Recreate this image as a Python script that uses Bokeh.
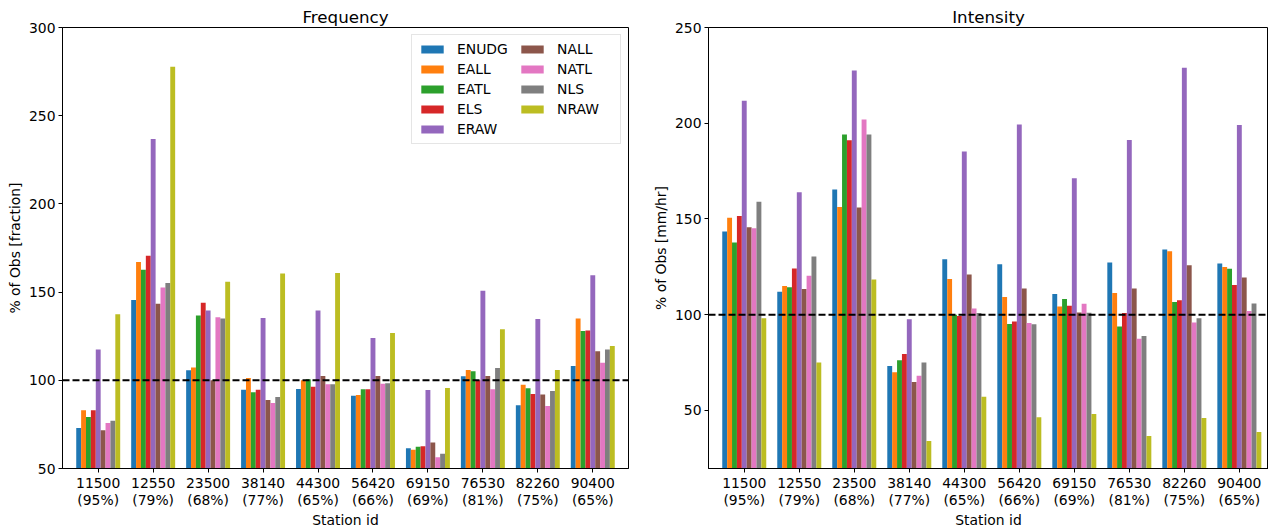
from bokeh.plotting import figure
from bokeh.models import Range1d, FixedTicker, Span, Legend, LegendItem
from bokeh.layouts import row
from bokeh.embed import file_html
from bokeh.resources import INLINE

stations = ["11500", "12550", "23500", "38140", "44300", "56420", "69150", "76530", "82260", "90400"]
coverage = ["95%", "79%", "68%", "77%", "65%", "66%", "69%", "81%", "75%", "65%"]
series = ["ENUDG", "EALL", "EATL", "ELS", "ERAW", "NALL", "NATL", "NLS", "NRAW"]
colors = ["#1f77b4", "#ff7f0e", "#2ca02c", "#d62728", "#9467bd", "#8c564b", "#e377c2", "#7f7f7f", "#bcbd22"]

# Frequency (% of Obs [fraction])
freq_ENUDG = [73.0, 145.5, 105.7, 94.7, 95.1, 91.3, 61.5, 102.3, 85.8, 108.1]
freq_EALL = [83.0, 167.0, 107.2, 101.3, 100.0, 91.7, 60.6, 105.8, 97.5, 135.1]
freq_EATL = [79.2, 162.6, 136.8, 93.2, 100.6, 94.9, 62.3, 105.1, 95.5, 128.0]
freq_ELS = [83.0, 170.6, 144.0, 94.7, 96.4, 94.9, 62.6, 100.0, 92.3, 128.3]
freq_ERAW = [117.5, 236.8, 139.6, 135.3, 139.6, 124.0, 94.5, 150.8, 134.7, 159.6]
freq_NALL = [71.7, 143.4, 100.0, 88.9, 102.5, 102.5, 64.7, 102.5, 91.9, 116.4]
freq_NATL = [75.8, 152.6, 135.7, 87.2, 97.7, 98.1, 56.4, 94.9, 85.5, 110.0]
freq_NLS = [77.0, 155.1, 135.1, 90.6, 97.7, 98.3, 58.3, 107.0, 94.0, 117.5]
freq_NRAW = [137.4, 277.7, 155.8, 160.6, 160.8, 126.8, 95.7, 129.0, 105.8, 119.4]

# Intensity (% of Obs [mm/hr])
int_ENUDG = [143.5, 112.0, 165.4, 73.2, 129.0, 126.3, 110.8, 127.3, 134.1, 126.8]
int_EALL = [150.6, 115.0, 156.2, 69.9, 118.6, 109.2, 104.3, 111.3, 133.2, 124.9]
int_EATL = [137.7, 114.4, 194.1, 76.2, 100.0, 95.1, 108.2, 93.9, 106.6, 124.0]
int_ELS = [151.5, 124.2, 191.1, 79.5, 99.3, 96.5, 104.7, 100.9, 107.5, 115.5]
int_ERAW = [211.8, 164.0, 227.5, 97.7, 185.2, 199.3, 171.3, 191.3, 229.0, 199.1]
int_NALL = [145.7, 113.4, 156.0, 64.9, 121.0, 113.7, 101.2, 113.7, 125.9, 119.5]
int_NATL = [145.2, 120.3, 201.9, 68.2, 103.3, 95.7, 105.7, 87.5, 96.0, 101.9]
int_NLS = [159.0, 130.4, 194.1, 75.1, 100.9, 95.0, 101.0, 88.9, 98.1, 105.9]
int_NRAW = [98.1, 75.1, 118.4, 34.1, 57.2, 46.4, 48.2, 36.7, 46.1, 38.8]

freq = [freq_ENUDG, freq_EALL, freq_EATL, freq_ELS, freq_ERAW, freq_NALL, freq_NATL, freq_NLS, freq_NRAW]
inten = [int_ENUDG, int_EALL, int_EATL, int_ELS, int_ERAW, int_NALL, int_NATL, int_NLS, int_NRAW]

FONT = "DejaVu Sans"
TICK_PX = "13.9px"
n = len(series)
group_w = 0.8
bar_w = group_w / n
xs_base = list(range(len(stations)))
labels = {i: f"{s}\n({c})" for i, (s, c) in enumerate(zip(stations, coverage))}


def make_fig(title, ylabel, data, y0, y1, yticks, fw, xend, bl, br, with_legend):
    p = figure(frame_width=fw, frame_height=441, output_backend="svg", toolbar_location=None,
               x_range=Range1d(-0.65, xend), y_range=Range1d(y0, y1),
               min_border_left=bl, min_border_right=br, min_border_top=27, min_border_bottom=50)
    p.title.text = title
    p.title.align = "center"
    p.title.text_font = FONT
    p.title.text_font_size = "16.7px"
    p.title.text_font_style = "normal"
    p.title.text_color = "black"
    p.title.standoff = 2
    renderers = []
    for j in range(n):
        off = -group_w / 2 + bar_w * (j + 0.5)
        xs = [x + off for x in xs_base]
        r = p.vbar(x=xs, top=data[j], bottom=0, width=bar_w, fill_color=colors[j], line_color=None)
        renderers.append(r)
    p.add_layout(Span(location=100, dimension="width", line_color="black", line_width=2, line_dash="7 3"))
    p.xgrid.visible = False
    p.ygrid.visible = False
    p.outline_line_color = "black"
    p.outline_line_width = 1
    p.xaxis.ticker = FixedTicker(ticks=xs_base)
    p.xaxis.major_label_overrides = labels
    p.yaxis.ticker = FixedTicker(ticks=yticks)
    for ax in (p.xaxis[0], p.yaxis[0]):
        ax.major_label_text_font = FONT
        ax.major_label_text_font_size = TICK_PX
        ax.major_label_text_color = "black"
        ax.axis_label_text_font = FONT
        ax.axis_label_text_font_size = TICK_PX
        ax.axis_label_text_font_style = "normal"
        ax.axis_label_text_color = "black"
        ax.axis_line_color = "black"
        ax.major_tick_line_color = "black"
        ax.major_tick_out = 4
        ax.major_tick_in = 0
        ax.minor_tick_line_color = None
        ax.major_label_standoff = 3
        ax.axis_label_standoff = 3
    p.xaxis.axis_label = "Station id"
    p.yaxis.axis_label = ylabel
    p.xaxis.major_label_standoff = 2
    p.xaxis.axis_label_standoff = 1
    p.xaxis.major_label_text_line_height = 1.1
    if with_legend:
        items = [LegendItem(label=series[j], renderers=[renderers[j]]) for j in range(n)]
        leg = Legend(items=items, location="top_right", ncols=2, orientation="vertical")
        leg.label_text_font = FONT
        leg.label_text_font_size = TICK_PX
        leg.label_text_color = "black"
        leg.glyph_width = 28
        leg.glyph_height = 10
        leg.label_standoff = 11
        leg.label_width = 57
        leg.label_height = 16
        leg.spacing = 4
        leg.padding = 6
        leg.margin = 7
        leg.border_line_color = "#cccccc"
        leg.border_line_width = 1
        leg.background_fill_alpha = 0.8
        p.add_layout(leg)
    return p


p1 = make_fig("Frequency", "% of Obs [fraction]", freq, 50, 300, [50, 100, 150, 200, 250, 300],
              566, 9.65, 62, 20, True)
p2 = make_fig("Intensity", "% of Obs [mm/hr]", inten, 19.7, 250, [50, 100, 150, 200, 250],
              560, 9.53, 60, 0, False)

layout = row(p1, p2)
open("out.html", "w").write(file_html(layout, INLINE))
